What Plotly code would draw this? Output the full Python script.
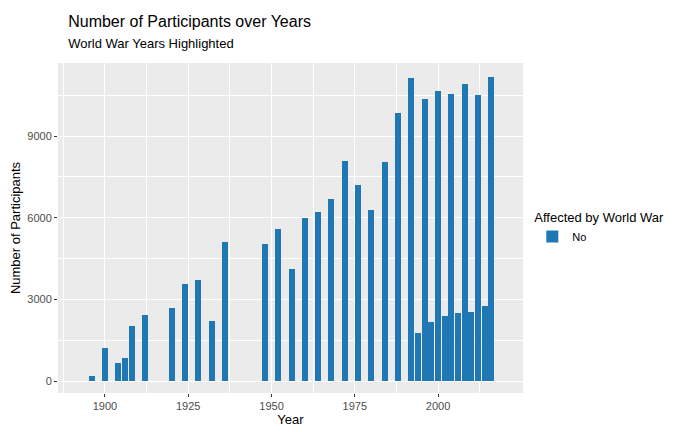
import plotly.graph_objects as go

years = [1896,1900,1904,1906,1908,1912,1920,1924,1928,1932,1936,1948,1952,1956,1960,1964,1968,1972,1976,1980,1984,1988,1992,1994,1996,1998,2000,2002,2004,2006,2008,2010,2012,2014,2016]
participants = [176,1224,650,841,2024,2409,2676,3567,3700,2200,5100,5050,5600,4130,6000,6200,6700,8100,7200,6300,8050,9850,11150,1750,10350,2180,10650,2400,10550,2500,10900,2550,10500,2750,11180]

fig = go.Figure(go.Bar(x=years, y=participants, width=1.8, marker_color="#1f78b4",
                       marker_line_width=0, name="No", showlegend=True))
fig.update_layout(
    width=700, height=432, paper_bgcolor="white", plot_bgcolor="#EBEBEB",
    margin=dict(l=50, r=185, t=55, b=47, autoexpand=False),
    font=dict(family="Liberation Sans", size=11, color="#4D4D4D"),
    title=dict(text="Number of Participants over Years<br><span style='font-size:13px'>World War Years Highlighted</span>",
               x=0.086, xanchor="left", y=0.955, yanchor="top", font=dict(size=16, color="black")),
    legend=dict(title=dict(text="Affected by World War", font=dict(size=13, color="black")),
                x=1.02, y=0.5, yanchor="middle", font=dict(size=11, color="black")),
    bargap=0,
)
fig.update_xaxes(range=[1885.9, 2025.5], tickvals=[1900,1925,1950,1975,2000], gridcolor="white",
                 minor=dict(tickvals=[1887.5,1912.5,1937.5,1962.5,1987.5,2012.5], gridcolor="white", gridwidth=0.5, showgrid=True),
                 title=dict(text="Year", font=dict(size=13, color="black"), standoff=2),
                 ticks="outside", ticklen=3, tickcolor="#333", zeroline=False, automargin=False)
fig.update_yaxes(range=[-441, 11690], tickvals=[0,3000,6000,9000], gridcolor="white",
                 minor=dict(tickvals=[1500,4500,7500,10500], gridcolor="white", gridwidth=0.5, showgrid=True),
                 title=dict(text="Number of Participants", font=dict(size=13, color="black"), standoff=4),
                 ticks="outside", ticklen=3, tickcolor="#333", zeroline=False, automargin=False)
fig.write_html("out.html")
